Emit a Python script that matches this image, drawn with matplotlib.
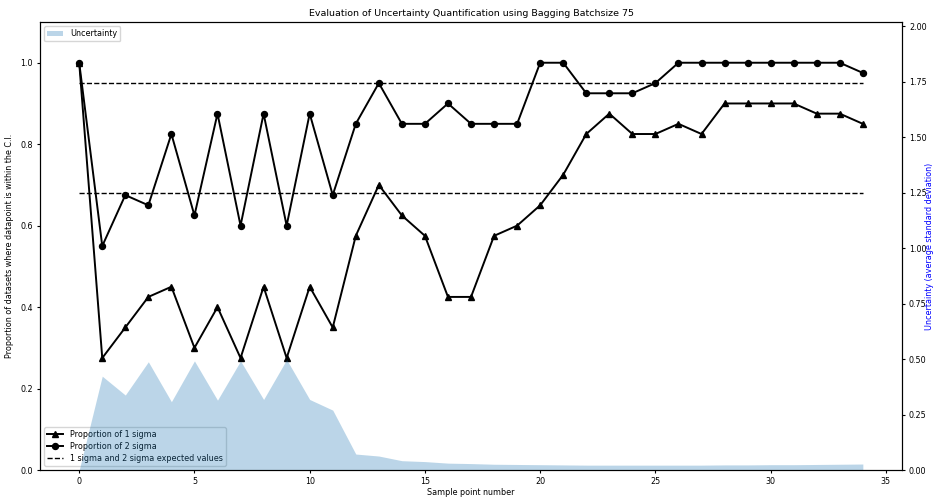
import numpy as np
import matplotlib
matplotlib.use("Agg")
import matplotlib.pyplot as plt

sample_points = list(range(35))

prop_1sigma = [1.0, 0.275, 0.35, 0.425, 0.45, 0.3, 0.4, 0.275, 0.45, 0.275,
               0.45, 0.35, 0.575, 0.7, 0.625, 0.575, 0.425, 0.425, 0.575, 0.6,
               0.65, 0.725, 0.825, 0.875, 0.825, 0.825, 0.85, 0.825, 0.9, 0.9,
               0.9, 0.9, 0.875, 0.875, 0.85]

prop_2sigma = [1.0, 0.55, 0.675, 0.65, 0.825, 0.625, 0.875, 0.6, 0.875, 0.6,
               0.875, 0.675, 0.85, 0.95, 0.85, 0.85, 0.9, 0.85, 0.85, 0.85,
               1.0, 1.0, 0.925, 0.925, 0.925, 0.95, 1.0, 1.0, 1.0, 1.0,
               1.0, 1.0, 1.0, 1.0, 0.975]

uncertainty = [0.0, 0.423, 0.338, 0.488, 0.308, 0.492, 0.315, 0.492, 0.318, 0.498,
               0.318, 0.27, 0.072, 0.063, 0.042, 0.038, 0.031, 0.029, 0.026, 0.025,
               0.024, 0.023, 0.022, 0.022, 0.022, 0.022, 0.022, 0.022, 0.023, 0.023,
               0.024, 0.024, 0.025, 0.026, 0.027]

expected_1sigma = 0.68
expected_2sigma = 0.95

fs = 5.8

fig = plt.figure(figsize=(9.33, 4.98), dpi=100)
ax = fig.add_axes([0.0429, 0.0562, 0.9239, 0.8996])

ax.plot(sample_points, prop_1sigma, color="black", marker="^", markersize=4.3,
        linewidth=1.4, label="Proportion of 1 sigma")
ax.plot(sample_points, prop_2sigma, color="black", marker="o", markersize=4.3,
        linewidth=1.4, label="Proportion of 2 sigma")
ax.plot([sample_points[0], sample_points[-1]], [expected_2sigma] * 2, "k--",
        linewidth=1.0, label="1 sigma and 2 sigma expected values")
ax.plot([sample_points[0], sample_points[-1]], [expected_1sigma] * 2, "k--",
        linewidth=1.0)
ax.set_ylim(0, 1.1)
ax.set_xlabel("Sample point number", fontsize=fs, labelpad=1.5)
ax.set_ylabel("Proportion of datasets where datapoint is within the C.I.",
              fontsize=fs, labelpad=5)
ax.set_title("Evaluation of Uncertainty Quantification using Bagging Batchsize 75",
             fontsize=6.8, pad=4)
ax.tick_params(labelsize=fs, length=2.5, pad=2.5)
ax.legend(loc="lower left", fontsize=fs, handlelength=2, borderpad=0.4,
          labelspacing=0.35)

ax2 = ax.twinx()
ax2.fill_between(sample_points, uncertainty, color="C0", alpha=0.3,
                 linewidth=0, label="Uncertainty")
ax2.set_ylim(0, 2.02)
ax2.set_ylabel("Uncertainty (average standard deviation)", color="blue",
               fontsize=fs, labelpad=-1)
ax2.tick_params(labelsize=fs, length=2.5, pad=2.5)
ax2.legend(loc="upper left", fontsize=fs, borderpad=0.4)

fig.savefig("out.png", dpi=100)
